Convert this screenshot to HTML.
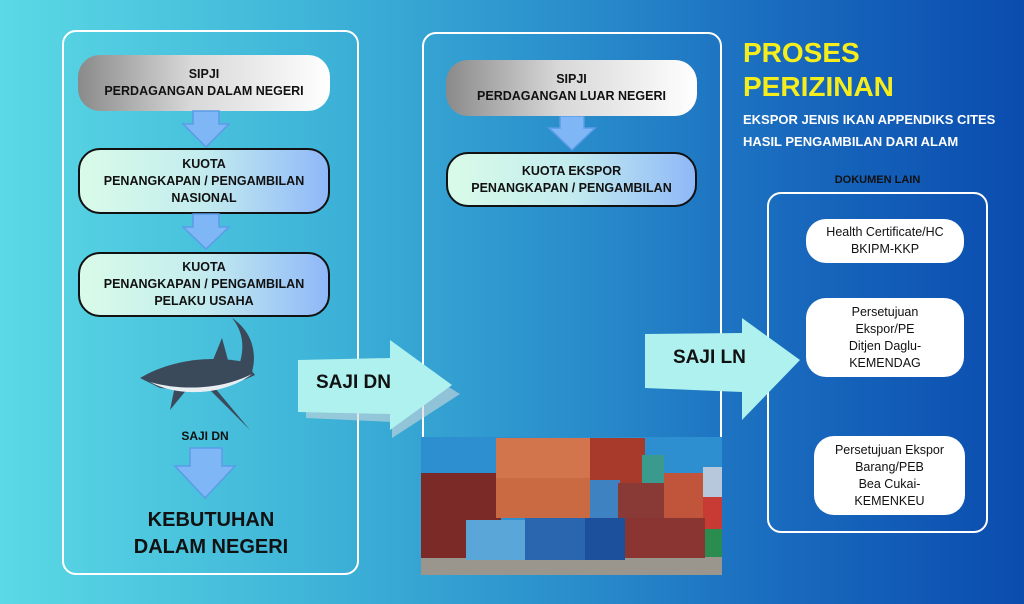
<!DOCTYPE html>
<html><head><meta charset="utf-8"><style>
*{margin:0;padding:0;box-sizing:border-box}
body{width:1024px;height:604px;overflow:hidden;position:relative;font-family:"Liberation Sans",sans-serif;font-weight:bold;
background:linear-gradient(90deg,#5bd9e5 0%,#3fb5d8 30%,#2a8fcc 55%,#1868bd 78%,#0a4cae 100%)}
.abs{position:absolute}
.panel{position:absolute;border:2px solid #fff;border-radius:14px}
.box{position:absolute;border:2px solid #111;border-radius:22px;display:flex;align-items:center;justify-content:center;text-align:center;font-size:12.5px;line-height:17px;color:#111;background:linear-gradient(90deg,#d9fbe8,#c3ecef 50%,#8fb8f8)}
.gray{border:none;background:linear-gradient(90deg,#8a8a8a,#d8d8d8 45%,#fff)}
.pill{position:absolute;background:#fff;border-radius:20px;display:flex;align-items:center;justify-content:center;text-align:center;font-weight:normal;font-size:12.5px;line-height:17px;color:#111}
</style></head><body>
<div class="panel" style="left:62px;top:30px;width:297px;height:545px"></div>
<div class="panel" style="left:422px;top:32px;width:300px;height:530px"></div>
<div class="panel" style="left:767px;top:192px;width:221px;height:341px"></div>

<div class="box gray" style="left:78px;top:55px;width:252px;height:56px">SIPJI<br>PERDAGANGAN DALAM NEGERI</div>
<div class="box" style="left:78px;top:148px;width:252px;height:66px">KUOTA<br>PENANGKAPAN / PENGAMBILAN<br>NASIONAL</div>
<div class="box" style="left:78px;top:252px;width:252px;height:65px">KUOTA<br>PENANGKAPAN / PENGAMBILAN<br>PELAKU USAHA</div>

<svg class="abs" style="left:0;top:0" width="1024" height="604">
<g fill="#7fb6f5" stroke="#5b9be8" stroke-width="1.5">
<polygon points="193,111 219,111 219,124 229,124 206,147 183,124 193,124"/>
<polygon points="193,214 219,214 219,227 229,227 206,249 183,227 193,227"/>
<polygon points="560,116 584,116 584,128 595,128 572,150 549,128 560,128"/>
<polygon points="190,448 222,448 222,466 235,466 205,498 175,466 190,466"/>
</g>
<g fill="#3b4a5a">
<path d="M140,378 C170,360 210,355 245,362 L255,375 C235,385 200,392 160,388 Z"/>
<path d="M213,360 L222,338 L228,360 Z"/>
<path d="M240,362 C245,345 242,330 232,318 C250,330 258,350 252,372 Z"/>
<path d="M205,385 L250,430 L215,388 Z"/>
<path d="M175,386 L170,410 L188,388 Z"/>
</g>
<path d="M150,382 C185,392 225,388 252,374 C225,395 180,398 150,382 Z" fill="#e8eef2"/>
<polygon points="306,368 392,366 392,352 460,394 392,438 392,422 306,418" fill="#cfd8dc" opacity=".6"/>
<polygon points="298,360 390,358 390,340 452,385 390,430 390,414 298,412" fill="#aef1ee"/>
<polygon points="645,334 742,333 742,318 800,360 742,420 742,392 645,388" fill="#aef1ee"/>
<rect x="421" y="437" width="301" height="138" fill="#2d8fd0"/>
<rect x="421" y="555" width="301" height="20" fill="#9a968e"/>
<rect x="421" y="473" width="80" height="85" fill="#7b2a28"/>
<rect x="500" y="480" width="15" height="30" fill="#2f62a8"/>
<rect x="496" y="438" width="100" height="80" fill="#d2754c"/>
<rect x="496" y="478" width="100" height="40" fill="#c96a42"/>
<rect x="590" y="438" width="55" height="45" fill="#a83a2c"/>
<rect x="642" y="455" width="22" height="30" fill="#3b9a8e"/>
<rect x="590" y="480" width="30" height="38" fill="#3f82c2"/>
<rect x="618" y="483" width="50" height="35" fill="#8a3a36"/>
<rect x="664" y="473" width="40" height="45" fill="#c0553c"/>
<rect x="703" y="467" width="19" height="30" fill="#b8c8dc"/>
<rect x="703" y="497" width="19" height="32" fill="#c83a34"/>
<rect x="703" y="529" width="19" height="28" fill="#2a8c4e"/>
<rect x="466" y="520" width="95" height="40" fill="#5aa6d8"/>
<rect x="525" y="518" width="60" height="42" fill="#2a66b0"/>
<rect x="585" y="518" width="40" height="42" fill="#1c4f9c"/>
<rect x="625" y="518" width="80" height="40" fill="#8a3532"/>
</svg>

<div class="abs" style="left:140px;top:429px;width:130px;text-align:center;font-size:12px;color:#111">SAJI DN</div>
<div class="abs" style="left:110px;top:507px;width:202px;text-align:center;font-size:20px;line-height:27px;color:#111">KEBUTUHAN<br>DALAM NEGERI</div>

<div class="box gray" style="left:446px;top:60px;width:251px;height:56px">SIPJI<br>PERDAGANGAN LUAR NEGERI</div>
<div class="box" style="left:446px;top:152px;width:251px;height:55px">KUOTA EKSPOR<br>PENANGKAPAN / PENGAMBILAN</div>

<div class="abs" style="left:316px;top:372px;font-size:19px;color:#111">SAJI DN</div>
<div class="abs" style="left:673px;top:347px;font-size:19px;color:#111">SAJI LN</div>

<div class="abs" style="left:743px;top:36px;font-size:28px;line-height:34px;color:#f5ee1c">PROSES<br>PERIZINAN</div>
<div class="abs" style="left:743px;top:109px;font-size:13px;line-height:22px;color:#fff">EKSPOR JENIS IKAN APPENDIKS CITES<br>HASIL PENGAMBILAN DARI ALAM</div>
<div class="abs" style="left:767px;top:174px;width:221px;text-align:center;font-size:11px;color:#111">DOKUMEN LAIN</div>

<div class="pill" style="left:806px;top:219px;width:158px;height:44px">Health Certificate/HC<br>BKIPM-KKP</div>
<div class="pill" style="left:806px;top:298px;width:158px;height:79px">Persetujuan<br>Ekspor/PE<br>Ditjen Daglu-<br>KEMENDAG</div>
<div class="pill" style="left:814px;top:436px;width:151px;height:79px">Persetujuan Ekspor<br>Barang/PEB<br>Bea Cukai-<br>KEMENKEU</div>
</body></html>
